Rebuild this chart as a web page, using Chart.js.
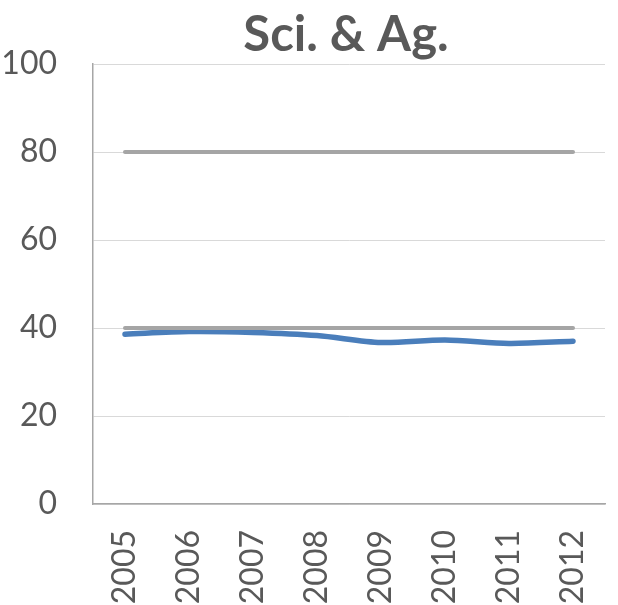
<!DOCTYPE html>
<html>
<head>
<meta charset="utf-8">
<script src="https://cdn.jsdelivr.net/npm/chart.js@4/dist/chart.umd.min.js"></script>
<style>
  html, body { margin: 0; padding: 0; background: #fff; }
  #wrap { width: 618px; height: 605px; position: relative; }
</style>
</head>
<body>
<div id="wrap"><canvas id="chart" width="618" height="605"></canvas></div>
<script>
// DATA
const chartTitle = "Sci. & Ag.";
const years = ["2005", "2006", "2007", "2008", "2009", "2010", "2011", "2012"];
const sciAg = [38.6, 39.2, 39.0, 38.3, 36.7, 37.3, 36.5, 37.0];
const upperRef = [80, 80, 80, 80, 80, 80, 80, 80];
const lowerRef = [40, 40, 40, 40, 40, 40, 40, 40];
const yTicks = [0, 20, 40, 60, 80, 100];

const FONT = "Lato, 'Open Sans', sans-serif";
const TEXT = "#595959";

function lineSet(label, data, color, width) {
  return {
    label: label,
    data: data,
    borderColor: color,
    backgroundColor: color,
    borderWidth: width,
    pointRadius: 0,
    borderCapStyle: "round",
    borderJoinStyle: "round",
    tension: 0.3,
    fill: false
  };
}

// title centred over the plot area, like the original
const plotTitle = {
  id: "plotTitle",
  afterDraw(chart) {
    const ctx = chart.ctx;
    const area = chart.chartArea;
    ctx.save();
    ctx.fillStyle = TEXT;
    ctx.font = "bold 49px " + FONT;
    ctx.textAlign = "center";
    ctx.textBaseline = "alphabetic";
    ctx.fillText(chartTitle, (area.left + area.right) / 2 - 3, 51);
    ctx.restore();
  }
};

new Chart(document.getElementById("chart"), {
  type: "line",
  data: {
    labels: years,
    datasets: [
      lineSet("Upper", upperRef, "#a5a5a5", 4),
      lineSet("Lower", lowerRef, "#a5a5a5", 4),
      lineSet(chartTitle, sciAg, "#4a7ebb", 5.5)
    ]
  },
  plugins: [plotTitle],
  options: {
    responsive: false,
    animation: false,
    layout: { padding: { left: 0, right: 13, top: 64, bottom: 0 } },
    plugins: {
      legend: { display: false },
      tooltip: { enabled: false },
      title: { display: false }
    },
    scales: {
      x: {
        offset: true,
        afterFit: (scale) => {
          scale.height = 101;
          scale.paddingLeft = 0;
          scale.paddingRight = 0;
        },
        grid: { display: false, drawTicks: false },
        border: { display: true, color: "#a6a6a6", width: 1.5 },
        ticks: {
          color: TEXT,
          font: { family: FONT, size: 32 },
          minRotation: 90,
          maxRotation: 90,
          padding: 26
        }
      },
      y: {
        min: 0,
        max: 100,
        afterFit: (scale) => {
          scale.width = 93;
          scale.paddingTop = 0;
          scale.paddingBottom = 0;
        },
        afterBuildTicks: (scale) => { scale.ticks = yTicks.map(v => ({ value: v })); },
        grid: { color: "#d9d9d9", lineWidth: 1, drawTicks: false },
        border: { display: true, color: "#a6a6a6", width: 1.5 },
        ticks: {
          color: TEXT,
          font: { family: FONT, size: 32 },
          padding: 36
        }
      }
    }
  }
});
</script>
</body>
</html>
